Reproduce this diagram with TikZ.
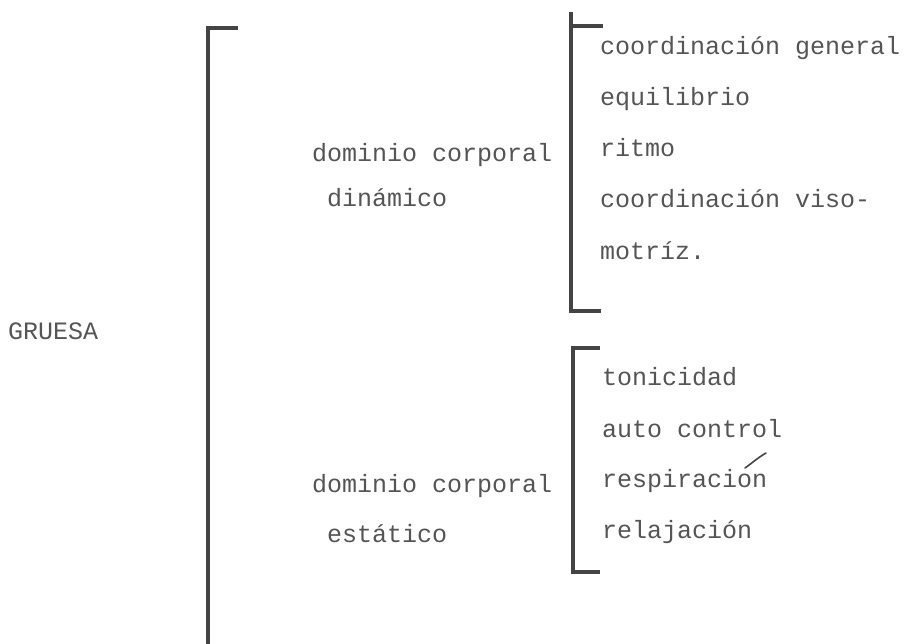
\documentclass[tikz,border=0pt]{standalone}
\usepackage{fontspec}
\setmonofont{Liberation Mono}
\definecolor{ink}{HTML}{555555}
\definecolor{pen}{HTML}{444444}
\tikzset{
  item/.style={anchor=base west,inner sep=0pt,text=ink,font=\ttfamily\fontsize{25}{25}\selectfont},
  brack/.style={draw=pen,line width=3.4pt}
}
\begin{document}
\begin{tikzpicture}[x=1pt,y=-1pt]
\useasboundingbox (0,0) rectangle (909,644);
\pgfmathsetmacro{\kl}{602}
\pgfmathsetmacro{\kdy}{51}
%left label
\node[item] (gruesa) at (8,339) {GRUESA};
%big bracket
\draw[brack] (238,28) -- (208,28) -- (208,646);
%upper group
\node[item] (dinA) at (312,162) {dominio corporal};
\node[item] (dinB) at (327,207) {dinámico};
\draw[brack] (571,12) -- (571,311) -- (601,311);
\draw[brack] (571,26) -- (603,26);
\node[item] (coord) at (600,55) {coordinación general};
\node[item] (equil) at (600,55+\kdy) {equilibrio};
\node[item] (ritmo) at (600,55+2*\kdy) {ritmo};
\node[item] (viso) at (600,55+3*\kdy) {coordinación viso-};
\node[item] (motriz) at (600,55+4*\kdy) {motríz.};
%lower group
\node[item] (estA) at (312,492) {dominio corporal};
\node[item] (estB) at (327,542) {estático};
\draw[brack] (600,348) -- (573,348) -- (573,572) -- (600,572);
\node[item] (toni) at (\kl,385) {tonicidad};
\node[item] (auto) at (\kl,437) {auto control};
\node[item] (resp) at (\kl,487) {respiracion};
\node[item] (rela) at (\kl,538) {relajación};
%hand accent
\draw[pen,line width=1.6pt,line cap=round] (745,468) to[out=35,in=-150] (766,453);
\end{tikzpicture}
\end{document}
